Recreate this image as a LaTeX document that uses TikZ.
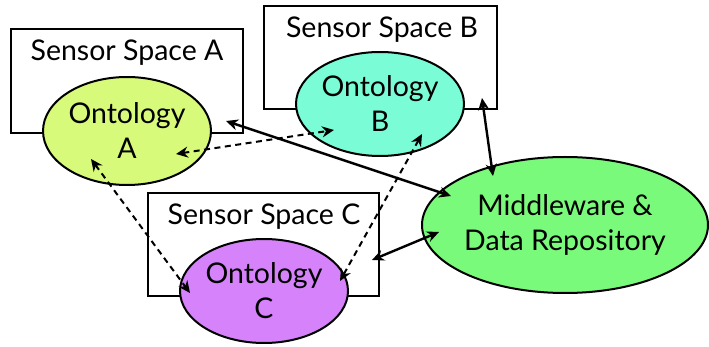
\documentclass[tikz,border=0pt]{standalone}
\usepackage{fontspec}
\setmainfont{Lato}
\usetikzlibrary{arrows.meta,shapes.geometric}
\definecolor{ontA}{RGB}{216,250,122}
\definecolor{ontB}{RGB}{122,252,214}
\definecolor{ontC}{RGB}{214,130,250}
\definecolor{midG}{RGB}{122,250,122}
\begin{document}
\begin{tikzpicture}[x=1pt,y=-1pt,
  spacebox/.style={draw,line width=2pt,fill=white,inner sep=0pt},
  ont/.style={draw,line width=2pt,ellipse,inner sep=0pt,align=center,
    font=\fontsize{28.5}{35}\selectfont},
  lbl/.style={font=\fontsize{28.5}{32}\selectfont,inner sep=0pt},
  solidlink/.style={line width=2.4pt,{Stealth[length=12pt,width=11pt]}-{Stealth[length=12pt,width=11pt]}},
  dashlink/.style={line width=2pt,dash pattern=on 6pt off 4.5pt,{Stealth[length=12pt,width=11pt]}-{Stealth[length=12pt,width=11pt]}}]
\useasboundingbox (0,0) rectangle (709,347);
% sensor spaces
\node[spacebox,minimum width=232pt,minimum height=104pt] (boxA) at (127,81) {};
\node[lbl] (sA) at (127,53) {Sensor Space A};
\node[spacebox,minimum width=233pt,minimum height=103pt] (boxB) at (380.5,57.5) {};
\node[lbl] (sB) at (382,30) {Sensor Space B};
\node[spacebox,minimum width=231pt,minimum height=103pt] (boxC) at (263.5,244.5) {};
\node[lbl] (sC) at (264,217) {Sensor Space C};
% ontologies
\node[ont,fill=ontA,minimum width=168pt,minimum height=108pt] (A) at (127,131) {Ontology\\A};
\node[ont,fill=ontB,minimum width=168pt,minimum height=104pt] (B) at (380,104) {Ontology\\B};
\node[ont,fill=ontC,minimum width=168pt,minimum height=104pt] (C) at (264,291) {Ontology\\C};
\node[ont,fill=midG,minimum width=286pt,minimum height=136pt] (M) at (565,225) {Middleware \&\\Data Repository};
% end points
\coordinate (aM) at (226,121);
\coordinate (mA) at (451,196);
\coordinate (aB) at (176,154);
\coordinate (bA) at (334,130);
\coordinate (aC) at (91,159);
\coordinate (cA) at (190,293);
\coordinate (bC) at (422,134);
\coordinate (cB) at (340,281);
\coordinate (bM) at (482,98);
\coordinate (mB) at (493,176);
\coordinate (cM) at (372,260);
\coordinate (mC) at (439,232);
\draw[solidlink] (aM) -- (mA);
\draw[solidlink] (bM) -- (mB);
\draw[solidlink] (cM) -- (mC);
\draw[dashlink] (aB) -- (bA);
\draw[dashlink] (aC) -- (cA);
\draw[dashlink] (bC) -- (cB);
\end{tikzpicture}
\end{document}
